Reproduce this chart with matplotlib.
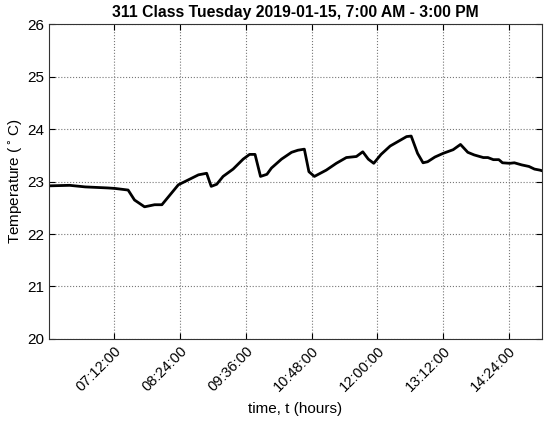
import matplotlib
matplotlib.use("Agg")
import matplotlib.pyplot as plt
import matplotlib.dates as mdates
import numpy as np
from datetime import datetime

# readings, 2019-01-15
times = ["06:00", "06:23", "06:40", "07:05", "07:13", "07:27", "07:34", "07:45",
         "07:56", "08:04", "08:22", "08:29", "08:44", "08:53", "08:58", "09:04",
         "09:11", "09:22", "09:33", "09:40", "09:46", "09:52", "09:59", "10:04",
         "10:15", "10:26", "10:33", "10:40", "10:45", "10:51", "11:04", "11:15",
         "11:26", "11:37", "11:44", "11:50", "11:56", "12:04", "12:14", "12:24",
         "12:32", "12:37", "12:44", "12:50", "12:55", "13:03", "13:12", "13:23",
         "13:31", "13:39", "13:46", "13:56", "14:01", "14:07", "14:13", "14:17",
         "14:25", "14:30", "14:38", "14:46", "14:52", "14:58", "15:00"]
temps = [22.92, 22.93, 22.90, 22.88, 22.87, 22.84, 22.65, 22.52,
         22.56, 22.56, 22.94, 23.00, 23.13, 23.16, 22.91, 22.95,
         23.10, 23.24, 23.43, 23.52, 23.52, 23.10, 23.14, 23.26,
         23.43, 23.56, 23.60, 23.62, 23.19, 23.10, 23.22, 23.35,
         23.46, 23.48, 23.57, 23.43, 23.35, 23.52, 23.68, 23.78,
         23.86, 23.87, 23.54, 23.36, 23.38, 23.47, 23.54, 23.61,
         23.71, 23.56, 23.51, 23.46, 23.46, 23.42, 23.42, 23.36,
         23.35, 23.36, 23.32, 23.29, 23.24, 23.22, 23.21]
tick_times = ["07:12", "08:24", "09:36", "10:48", "12:00", "13:12", "14:24"]
yticks = [20, 21, 22, 23, 24, 25, 26]


def to_dt(s):
    return datetime.strptime("2019-01-15 " + s, "%Y-%m-%d %H:%M")


plt.rcParams['font.family'] = ['Liberation Sans', 'DejaVu Sans']

fig = plt.figure(figsize=(5.5, 4.21), dpi=100)
ax = fig.add_axes([0.0885, 0.195, 0.8965, 0.747])

t = [to_dt(s) for s in times]
ax.plot(t, temps, color='black', linewidth=2.0)

ax.set_xlim(to_dt("06:00"), to_dt("15:00"))
ax.set_ylim(20, 26)
ax.set_yticks(yticks)
ax.set_xticks([to_dt(s) for s in tick_times])
ax.xaxis.set_major_formatter(mdates.DateFormatter('%H:%M:%S'))

ax.tick_params(direction='in', top=True, right=True, length=4, width=0.8,
               labelsize=11)
ax.tick_params(axis='x', labelsize=10.5)
for lab in ax.get_xticklabels():
    lab.set_rotation(45)
    lab.set_ha('right')
    lab.set_rotation_mode('anchor')

ax.grid(True, linestyle=':', color='#777777', linewidth=0.8)
for s in ax.spines.values():
    s.set_color('#333333')
    s.set_linewidth(0.8)

ax.set_title("311 Class Tuesday 2019-01-15, 7:00 AM - 3:00 PM",
             fontsize=11.3, fontweight='bold', pad=5)
ax.set_xlabel("time, t (hours)", fontsize=11, labelpad=6)
ax.set_ylabel(r"Temperature ($^\circ$C)", fontsize=11, labelpad=1)

fig.savefig("out.png", dpi=100)
